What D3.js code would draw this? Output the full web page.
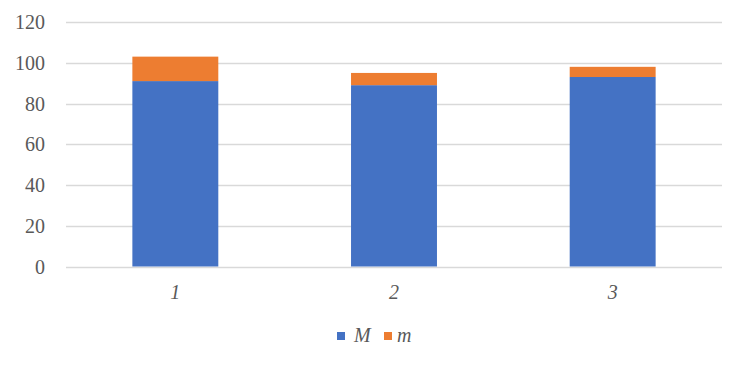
<!DOCTYPE html>
<html>
<head>
<meta charset="UTF-8" />
<script src="https://d3js.org/d3.v7.min.js"></script>
<style>
body { margin: 0px; background: #fff; font-family: 'Liberation Serif', serif; }
</style>
</head>
<body>
<svg id="chart" width="744" height="367"></svg>
<script>
// data
let categories = ["1", "2", "3"];
let seriesNames = ["M", "m"];
let valuesM = [91, 89, 93];
let valuesm = [12, 6, 5];
let yTicks = [0, 20, 40, 60, 80, 100, 120];

let colors = {M: "#4472c4", m: "#ed7d31"};
let serif = "'Liberation Serif', serif";

let width = 744, height = 367;
let margin = {left: 66, right: 22, top: 22, bottom: 100.5};

let svg = d3.select("#chart").style("font-family", serif);

let rows = categories.map((c, i) => ({cat: c, M: valuesM[i], m: valuesm[i]}));
let stacked = d3.stack().keys(seriesNames)(rows);

let x = d3.scaleBand()
    .domain(categories)
    .range([margin.left, width - margin.right])
    .paddingInner(0.607)
    .paddingOuter(0.3035);

let y = d3.scaleLinear()
    .domain([0, 120])
    .range([height - margin.bottom, margin.top]);

// gridlines
svg.append("g")
    .selectAll("line")
    .data(yTicks)
    .join("line")
    .attr("x1", margin.left)
    .attr("x2", width - margin.right)
    .attr("y1", d => Math.round(y(d)) + 0.5)
    .attr("y2", d => Math.round(y(d)) + 0.5)
    .attr("stroke", "#d9d9d9")
    .attr("stroke-width", 1.3);

// y labels
svg.append("g")
    .selectAll("text")
    .data(yTicks)
    .join("text")
    .attr("x", 45)
    .attr("y", d => y(d))
    .attr("dy", "0.35em")
    .attr("text-anchor", "end")
    .style("font-family", serif)
    .style("font-size", "20px")
    .attr("fill", "#595959")
    .text(d => d);

// bars
svg.append("g")
    .selectAll("g")
    .data(stacked)
    .join("g")
    .attr("fill", d => colors[d.key])
    .selectAll("rect")
    .data(d => d)
    .join("rect")
    .attr("x", d => x(d.data.cat))
    .attr("width", x.bandwidth())
    .attr("y", d => y(d[1]))
    .attr("height", d => y(d[0]) - y(d[1]));

// x labels
svg.append("g")
    .selectAll("text")
    .data(categories)
    .join("text")
    .attr("x", d => x(d) + x.bandwidth() / 2)
    .attr("y", 299)
    .attr("text-anchor", "middle")
    .style("font-family", serif)
    .style("font-size", "20px")
    .style("font-style", "italic")
    .attr("fill", "#595959")
    .text(d => d);

// legend
let legendX = [337, 384];
let legendTextDx = [17, 13];
let legend = svg.append("g")
    .selectAll("g")
    .data(seriesNames)
    .join("g")
    .attr("transform", (d, i) => `translate(${legendX[i]},332)`);
legend.append("rect")
    .attr("width", 8)
    .attr("height", 8)
    .attr("fill", d => colors[d]);
legend.append("text")
    .attr("x", (d, i) => legendTextDx[i])
    .attr("y", 10)
    .style("font-family", serif)
    .style("font-size", "20px")
    .style("font-style", "italic")
    .attr("fill", "#595959")
    .text(d => d);
</script>
</body>
</html>
